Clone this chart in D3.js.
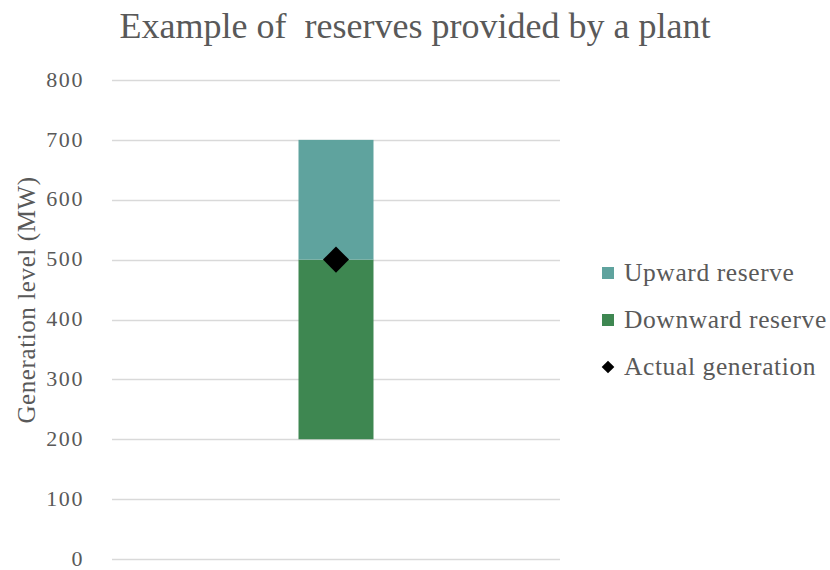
<!DOCTYPE html>
<html>
<head>
<meta charset="utf-8">
<script src="https://cdn.jsdelivr.net/npm/d3@7"></script>
<style>
  html, body { margin: 0; padding: 0; background: #ffffff; }
  svg { display: block; }
  text { font-family: "Liberation Serif", "DejaVu Serif", serif; fill: #595959; }
</style>
</head>
<body>
<svg id="chart" width="830" height="570"></svg>
<script>
// Chart data
const categories = ["Plant"];
const baseLevel = [200];        // minimum stable generation (not drawn)
const downwardReserve = [300];
const upwardReserve = [200];
const actualGeneration = [500];
const yTicks = [0, 100, 200, 300, 400, 500, 600, 700, 800];

const seriesNames = ["Downward reserve", "Upward reserve"];
const colors = { "Upward reserve": "#5fa39e", "Downward reserve": "#3e8751" };

const rows = categories.map((c, i) => ({
  category: c,
  base: baseLevel[i],
  "Downward reserve": downwardReserve[i],
  "Upward reserve": upwardReserve[i],
  actual: actualGeneration[i]
}));

const svg = d3.select("#chart");
const plot = { left: 112, right: 560, top: 80, bottom: 559 };

const x = d3.scaleBand().domain(categories).range([plot.left, plot.right])
  .paddingInner(0).paddingOuter(2.487);
const y = d3.scaleLinear().domain([0, 800]).range([plot.bottom, plot.top]);

// Title
svg.append("text")
  .attr("x", 415).attr("y", 38)
  .attr("text-anchor", "middle")
  .style("font-size", "36px")
  .style("white-space", "pre")
  .text("Example of  reserves provided by a plant");

// Gridlines
svg.append("g")
  .selectAll("line")
  .data(yTicks)
  .join("line")
  .attr("x1", plot.left).attr("x2", plot.right)
  .attr("y1", d => Math.round(y(d)) + 0.5).attr("y2", d => Math.round(y(d)) + 0.5)
  .attr("stroke", "#d9d9d9").attr("stroke-width", 1.3);

// Y axis labels
const yAxis = d3.axisLeft(y).tickValues(yTicks).tickSize(0).tickPadding(0);
const gy = svg.append("g").attr("transform", `translate(${plot.left - 28},0)`).call(yAxis);
gy.select(".domain").remove();
gy.selectAll("text")
  .style("font-family", '"Liberation Serif", serif')
  .style("font-size", "22px")
  .style("letter-spacing", "1.6px")
  .attr("fill", "#595959")
  .attr("dy", "0.28em");

// Y axis title
svg.append("text")
  .attr("transform", `translate(35,300) rotate(-90)`)
  .attr("text-anchor", "middle")
  .style("font-size", "25px")
  .style("letter-spacing", "0.6px")
  .text("Generation level (MW)");

// Stacked bars, lifted by the base level
const stack = d3.stack().keys(seriesNames)
  .offset(series => {
    for (let k = 0; k < series.length; k++) {
      series[k].forEach((p, j) => {
        const h = p[1] - p[0];
        p[0] = k === 0 ? rows[j].base : series[k - 1][j][1];
        p[1] = p[0] + h;
      });
    }
  });
const layers = stack(rows);

svg.append("g")
  .selectAll("g")
  .data(layers)
  .join("g")
  .attr("fill", d => colors[d.key])
  .selectAll("rect")
  .data(d => d)
  .join("rect")
  .attr("x", d => x(d.data.category))
  .attr("width", x.bandwidth())
  .attr("y", d => y(d[1]))
  .attr("height", d => y(d[0]) - y(d[1]));

// Actual generation marker
const diamond = d3.symbol().type(d3.symbolSquare).size(340);
svg.append("g")
  .selectAll("path")
  .data(rows)
  .join("path")
  .attr("d", diamond)
  .attr("transform", d => `translate(${x(d.category) + x.bandwidth() / 2},${y(d.actual)}) rotate(45)`)
  .attr("fill", "#000000");

// Legend
const legendItems = [
  { name: "Upward reserve", type: "rect" },
  { name: "Downward reserve", type: "rect" },
  { name: "Actual generation", type: "diamond" }
];
const legend = svg.append("g").attr("transform", "translate(602,273)");
legendItems.forEach((item, i) => {
  const g = legend.append("g").attr("transform", `translate(0,${i * 47})`);
  if (item.type === "rect") {
    g.append("rect").attr("x", 0).attr("y", -6).attr("width", 12).attr("height", 12)
      .attr("fill", colors[item.name]);
  } else {
    g.append("path")
      .attr("d", d3.symbol().type(d3.symbolSquare).size(80))
      .attr("transform", "translate(6,0) rotate(45)")
      .attr("fill", "#000000");
  }
  g.append("text").attr("x", 22).attr("y", 0).attr("dy", "0.32em")
    .style("font-size", "25.5px")
    .style("letter-spacing", "0.6px")
    .text(item.name);
});
</script>
</body>
</html>
